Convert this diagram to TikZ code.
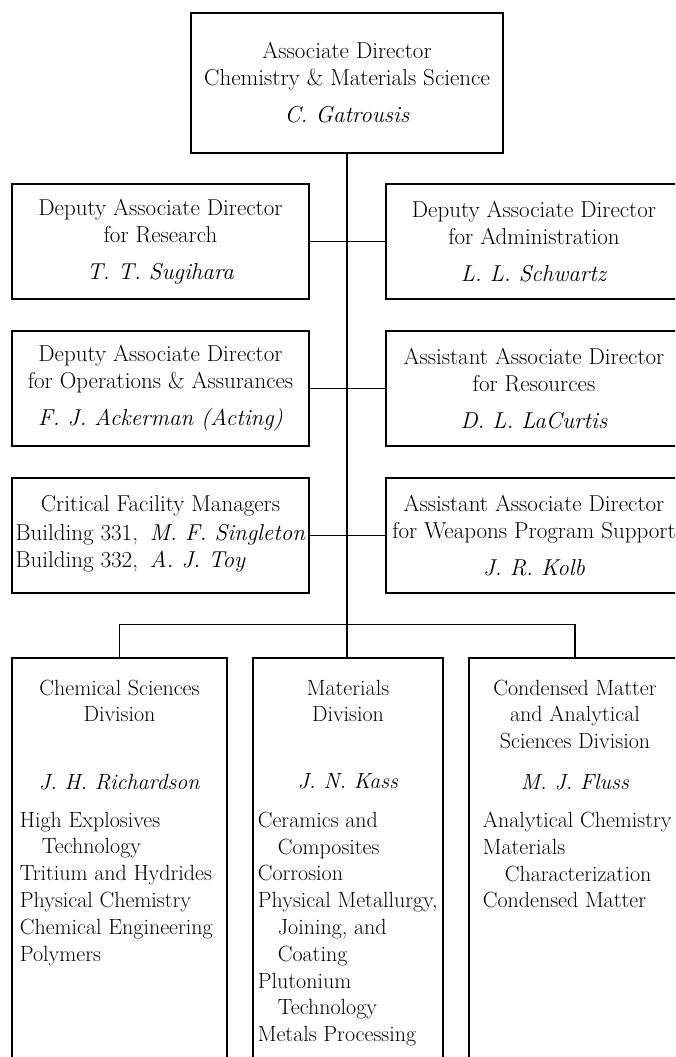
\documentclass[tikz,border=0pt]{standalone}
\usepackage{tikz}
\usetikzlibrary{positioning}

\begin{document}
\begin{tikzpicture}[x=1pt, y=-1pt,
  box/.style={draw, line width=2.7pt, align=center, inner sep=0pt, font=\fontsize{23}{27}\selectfont},
  divbox/.style={draw, line width=2.7pt, inner sep=0pt, minimum height=440},
  divtext/.style={align=center, inner sep=0pt, font=\fontsize{22}{26.5}\selectfont},
  items/.style={align=left, inner sep=0pt, font=\fontsize{22}{26.8}\selectfont},
  link/.style={line width=1.3pt}]
% \draw (0,0) grid (675,1057);
\useasboundingbox (0,0) rectangle (675,1057);
\clip (0,0) rectangle (675,1057);
\node[box, minimum width=312, minimum height=140] (AD) at (347,83)
  {Associate Director\\Chemistry \& Materials Science\\[10pt]\textit{C. Gatrousis}};
\node[box, minimum width=297, minimum height=115] (DR) at (160.5,241.5)
  {Deputy Associate Director\\for Research\\[10pt]\textit{T. T. Sugihara}};
\node[box, minimum width=296, minimum height=115] (DA) at (534,241.5)
  {Deputy Associate Director\\for Administration\\[10pt]\textit{L. L. Schwartz}};
\node[box, minimum width=297, minimum height=115] (DO) at (160.5,388.5)
  {Deputy Associate Director\\for Operations \& Assurances\\[10pt]\textit{F. J. Ackerman (Acting)}};
\node[box, minimum width=296, minimum height=115] (AR) at (534,388.5)
  {Assistant Associate Director\\for Resources\\[10pt]\textit{D. L. LaCurtis}};
\node[box, minimum width=297, minimum height=115] (CF) at (160.5,535.5)
  {Critical Facility Managers\\[4pt]%
   \begin{tabular}{@{}l@{}}Building 331,\,\textit{ M. F. Singleton}\\Building 332,\,\textit{ A. J. Toy}\end{tabular}};
\node[box, minimum width=296, minimum height=115] (AW) at (534,535.5)
  {Assistant Associate Director\\for Weapons Program Support\\[10pt]\textit{J. R. Kolb}};
% divisions
\node[divbox, minimum width=215] (CS) at (119.5,878) {};
\node[divbox, minimum width=190] (MD) at (348,878) {};
\node[divbox, minimum width=212] (CM) at (575,878) {};
\node[divtext, below=23pt of CS.north] (CStitle) {Chemical Sciences\\Division};
\node[divtext, below=23pt of MD.north] (MDtitle) {Materials\\Division};
\node[divtext, below=23pt of CM.north] (CMtitle) {Condensed Matter\\and Analytical\\Sciences Division};
\node[divtext, below=117pt of CS.north] (CSname) {\textit{J. H. Richardson}};
\node[divtext, below=117pt of MD.north] (MDname) {\textit{J. N. Kass}};
\node[divtext, below=117pt of CM.north] (CMname) {\textit{M. J. Fluss}};
\node[items, below right=155pt and 9pt of CS.north west] (CSlist)
  {High Explosives\\\hspace*{22pt}Technology\\Tritium and Hydrides\\Physical Chemistry\\Chemical Engineering\\Polymers};
\node[items, below right=155pt and 6pt of MD.north west] (MDlist)
  {Ceramics and\\\hspace*{20pt}Composites\\Corrosion\\Physical Metallurgy,\\\hspace*{20pt}Joining, and\\\hspace*{20pt}Coating\\Plutonium\\\hspace*{20pt}Technology\\Metals Processing};
\node[items, below right=155pt and 15pt of CM.north west] (CMlist)
  {Analytical Chemistry\\Materials\\\hspace*{22pt}Characterization\\Condensed Matter};
% connectors
\draw[link] (AD.south) -- (AD.south |- MD.north);
\draw[link] (DR.east) -- (DA.west);
\draw[link] (DO.east) -- (AR.west);
\draw[link] (CF.east) -- (AW.west);
\draw[link] (CS.north) -- ++(0,-32) -| (CM.north);
\end{tikzpicture}
\end{document}
